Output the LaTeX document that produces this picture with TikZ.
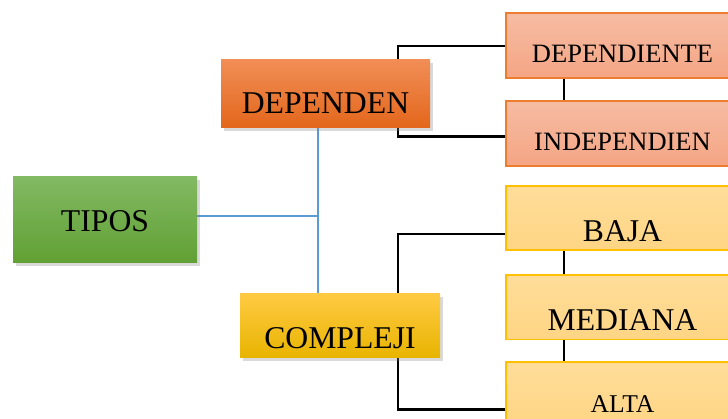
\documentclass[tikz,border=0pt]{standalone}
\usepackage{fontspec}
\setmainfont{Liberation Serif}
\usetikzlibrary{positioning,shadows,backgrounds}
\definecolor{verdeA}{HTML}{82B963}
\definecolor{verdeB}{HTML}{70AD47}
\definecolor{verdeC}{HTML}{61A034}
\definecolor{naranjaA}{HTML}{F18E56}
\definecolor{naranjaB}{HTML}{F07B2E}
\definecolor{naranjaC}{HTML}{E3661B}
\definecolor{oroA}{HTML}{FFCA42}
\definecolor{oroB}{HTML}{FFC000}
\definecolor{oroC}{HTML}{E8B400}
\definecolor{salmonA}{HTML}{F6BCA3}
\definecolor{salmonB}{HTML}{F4A584}
\definecolor{salmonBorde}{HTML}{ED7D31}
\definecolor{cremaA}{HTML}{FFDD99}
\definecolor{cremaB}{HTML}{FFD584}
\definecolor{cremaBorde}{HTML}{FFC000}
\definecolor{azulLinea}{HTML}{5B9BD5}
\tikzstyle{caja}=[rectangle,inner sep=0pt,align=center,font=\fontsize{31.7}{36}\selectfont,drop shadow={shadow xshift=2.5pt,shadow yshift=-3.5pt,opacity=0.3}]
\tikzstyle{hoja}=[rectangle,inner sep=0pt,align=center,line width=1.8pt,minimum width=233pt,text height=55.5pt,text depth=9pt,font=\fontsize{31.7}{36}\selectfont]
\tikzstyle{hojaA}=[hoja,draw=salmonBorde,top color=salmonA,bottom color=salmonB,text height=50pt,text depth=15pt,font=\fontsize{26.5}{30}\selectfont]
\tikzstyle{hojaB}=[hoja,draw=cremaBorde,top color=cremaA,bottom color=cremaB]
\tikzstyle{lin}=[line width=2.6pt,black]
\tikzstyle{azul}=[line width=1.6pt,azulLinea]

\begin{document}
\begin{tikzpicture}[x=1pt,y=-1pt,node distance=21pt]
\useasboundingbox (0,0) rectangle (728,419);
\node[caja,minimum width=184pt,text height=55pt,text depth=31pt,top color=verdeA,middle color=verdeB,bottom color=verdeC] (TIPOS) at (105,220) {TIPOS};
\node[caja,minimum width=209pt,text height=54pt,text depth=14pt,top color=naranjaA,middle color=naranjaB,bottom color=naranjaC] (DEPENDEN) at (325.5,94) {DEPENDEN};
\node[caja,minimum width=200pt,text height=55pt,text depth=9pt,top color=oroA,middle color=oroB,bottom color=oroC] (COMPLEJI) at (340,326) {COMPLEJI};
\node[hojaA] (DEPENDIENTE) at (622.5,45.5) {DEPENDIENTE};
\node[hojaA, below=of DEPENDIENTE] (INDEPENDIEN) {INDEPENDIEN};
\node[hojaB] (BAJA) at (622.5,218) {BAJA};
\node[hojaB, below=23pt of BAJA] (MEDIANA) {MEDIANA};
\node[hojaB, below=21pt of MEDIANA, text height=50pt, text depth=15pt, font=\fontsize{25.6}{30}\selectfont] (ALTA) {ALTA};
\coordinate (eje) at (318,216);
\coordinate (codo) at (398,0);
\begin{scope}[on background layer]
\draw[azul] (TIPOS.east |- eje) -- (eje);
\draw[azul] (eje |- DEPENDEN.south) -- (eje |- COMPLEJI.north);
\draw[lin] ([yshift=-0.5pt]DEPENDIENTE.west) -| ([yshift=-3.5pt]codo |- INDEPENDIEN.west) -- ([yshift=-3.5pt]INDEPENDIEN.west);
\draw[lin] ([yshift=-16pt]BAJA.west) -| ([yshift=-14.5pt]codo |- ALTA.west) -- ([yshift=-14.5pt]ALTA.west);
\draw[lin] ([xshift=59pt]DEPENDIENTE.south west) -- ([xshift=59pt]INDEPENDIEN.north west);
\draw[lin] ([xshift=59pt]BAJA.south west) -- ([xshift=59pt]MEDIANA.north west);
\draw[lin] ([xshift=59pt]MEDIANA.south west) -- ([xshift=59pt]ALTA.north west);
\end{scope}
\end{tikzpicture}
\end{document}
